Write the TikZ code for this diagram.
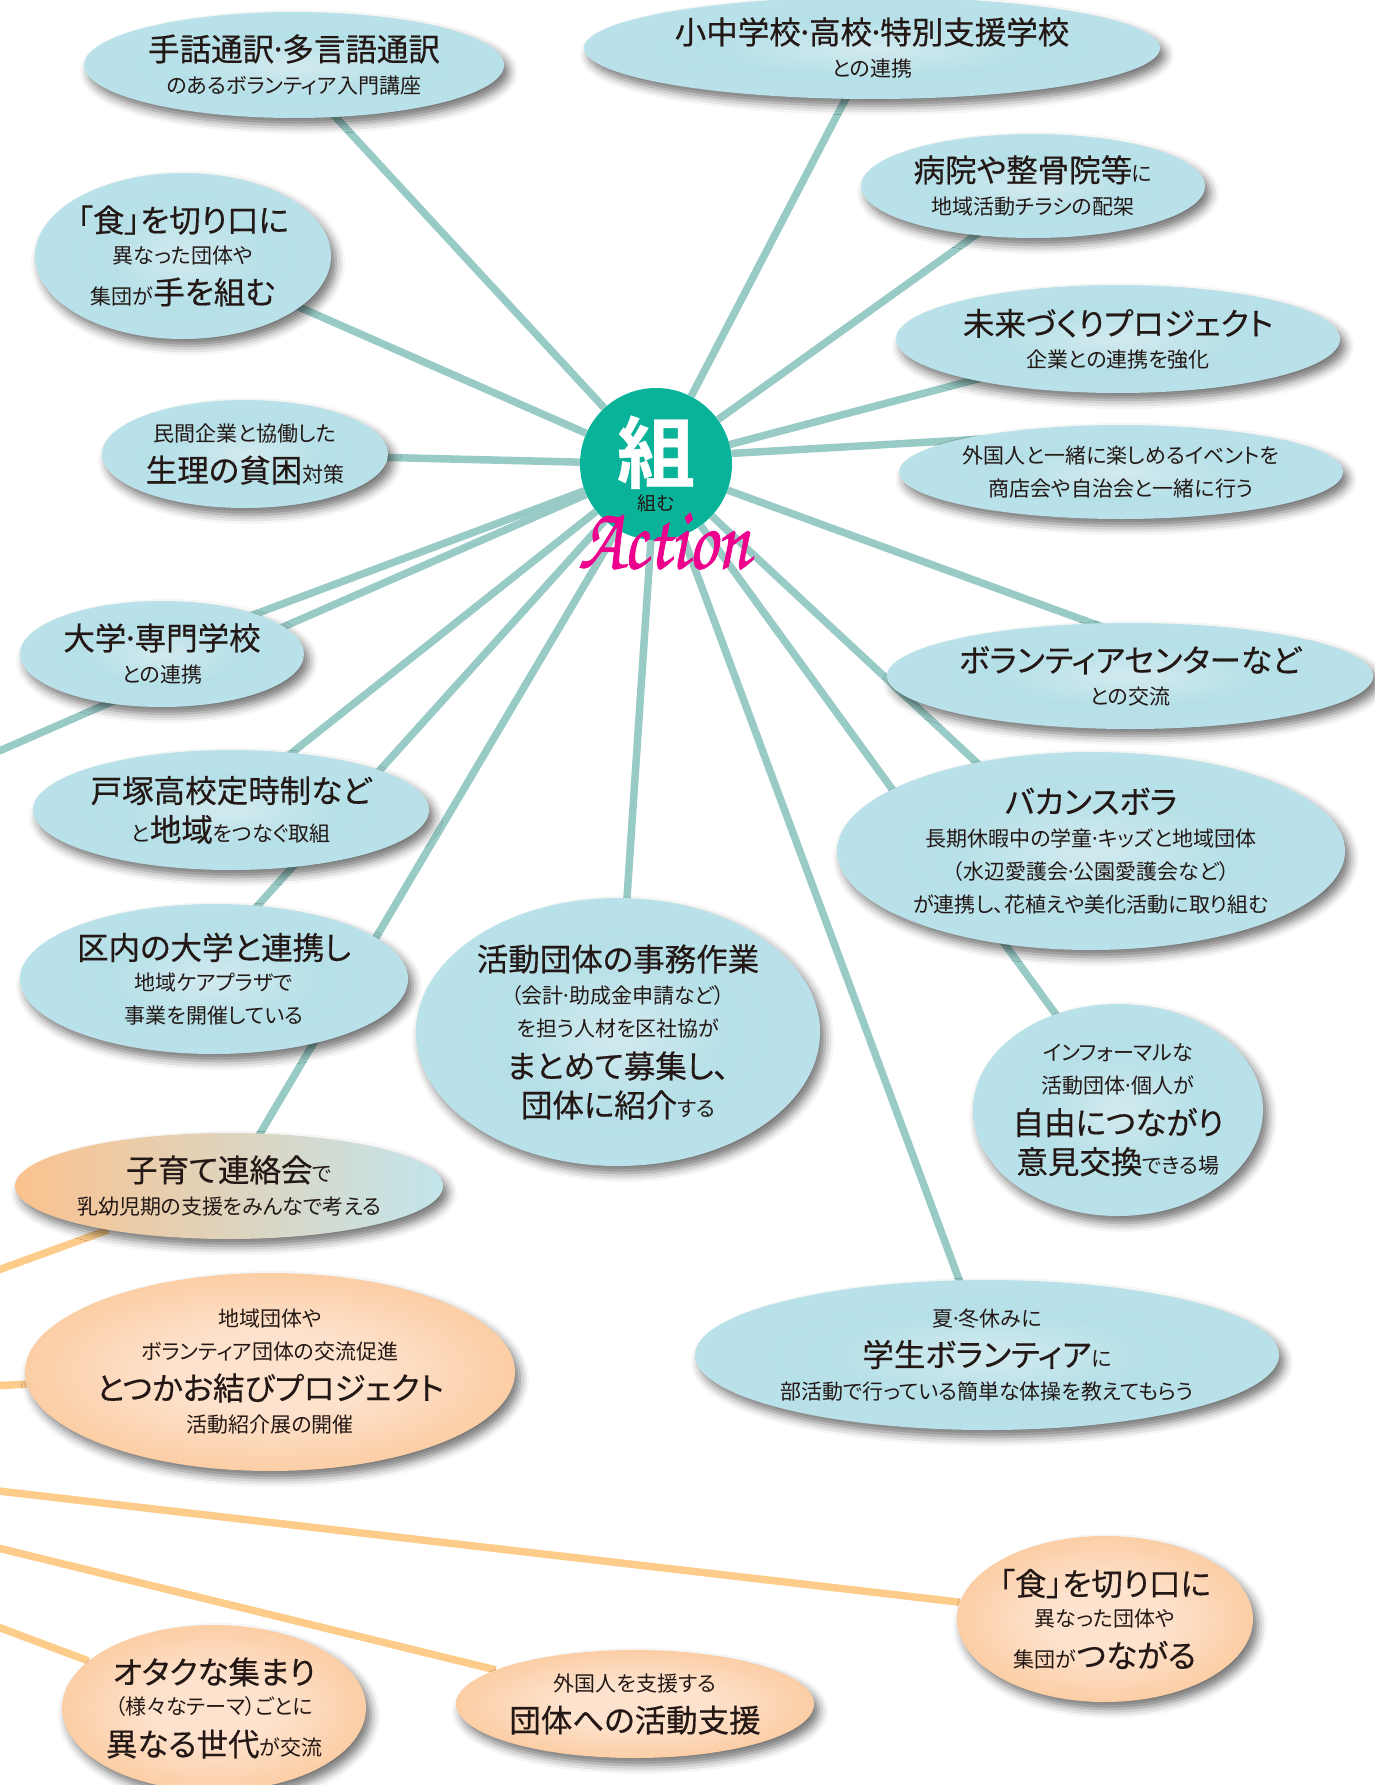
\documentclass[tikz,border=0pt]{standalone}
\usepackage{fontspec}
\setmainfont[RawFeature={+palt}]{Noto Sans CJK JP}
\newfontfamily\jpbig[RawFeature={+palt},FakeBold=0.45]{Noto Sans CJK JP}
\newfontfamily\jpheavy[FakeBold=0.5]{Noto Sans CJK JP Bold}
\usetikzlibrary{shapes.geometric,shadows.blur,backgrounds}
\definecolor{inkc}{HTML}{231815}
\definecolor{tealln}{HTML}{99CBC6}
\definecolor{orangeln}{HTML}{FECC8A}
\definecolor{hubc}{HTML}{08B39A}
\definecolor{pinkc}{HTML}{EC008C}
\definecolor{bluea}{HTML}{D2EAEF}
\definecolor{blueb}{HTML}{B6E0E8}
\definecolor{bluec}{HTML}{C2E5EC}
\definecolor{orangea}{HTML}{FDE2CD}
\definecolor{orangeb}{HTML}{FBC28E}
\definecolor{childmid}{HTML}{E6F0E4}
\pgfdeclareradialshading{bluebub}{\pgfpoint{0bp}{0bp}}{color(0bp)=(bluea);color(14bp)=(blueb);color(50bp)=(bluec)}
\pgfdeclareradialshading{orangebub}{\pgfpoint{0bp}{0bp}}{color(0bp)=(orangea);color(10bp)=(orangea);color(34bp)=(orangeb);color(50bp)=(orangeb)}
\newcommand{\bt}[1]{{\jpbig\fontsize{31.5}{33}\selectfont #1}}
\newcommand{\dt}{\kern-.15em·\kern-.15em}
\newcommand{\brush}[1]{\special{pdf:code 2 Tr 0.7 w 0.925 0 0.549 RG}#1\special{pdf:code 0 Tr}}
\tikzset{
    bubble/.style={ellipse, inner sep=-30pt, align=center, text=inkc,
        font=\fontsize{21}{33}\selectfont,
        blur shadow={shadow xshift=5pt, shadow yshift=-7pt, shadow blur radius=9pt, shadow opacity=55}},
    wh/.style 2 args={minimum width=#1pt, minimum height=#2pt},
    tealbub/.style={bubble, shading=bluebub},
    orangebub/.style={bubble, shading=orangebub},
    tealline/.style={draw=tealln, line width=7.5pt},
    orangeline/.style={draw=orangeln, line width=7.5pt}
}
\begin{document}
\begin{tikzpicture}[x=1pt, y=-1pt]
\useasboundingbox (0,0) rectangle (1374,1785);
% right side
\node[tealbub, wh={420}{106}] (hand) at (294,65) {\bt{手話通訳\dt 多言語通訳}\\のあるボランティア入門講座};
\node[tealbub, wh={576}{102}] (school) at (872,48) {\bt{小中学校\dt 高校\dt 特別支援学校}\\との連携};
\node[tealbub, wh={344}{104}] (clinic) at (1033,186) {\bt{病院や整骨院等}に\\地域活動チラシの配架};
\node[tealbub, wh={444}{108}] (future) at (1118,339) {\bt{未来づくりプロジェクト}\\[-1pt]企業との連携を強化};
\node[tealbub, wh={444}{94}] (abroad) at (1121,472) {外国人と一緒に楽しめるイベントを\\商店会や自治会と一緒に行う};
\node[tealbub, wh={486}{106}] (center) at (1130,676) {\bt{ボランティアセンターなど}\\[-1pt]との交流};
\node[tealbub, wh={508}{198}] (vacation) at (1091,851) {\bt{バカンスボラ}\\長期休暇中の学童\dt キッズと地域団体\\（水辺愛護会\dt 公園愛護会など）\\が連携し、花植えや美化活動に取り組む};
\node[tealbub, wh={290}{212}] (informal) at (1118,1110) {インフォーマルな\\活動団体\dt 個人が\\[8pt]\bt{自由につながり}\\[6pt]\bt{意見交換}できる場};
\node[tealbub, wh={584}{150}] (summer) at (987,1355) {夏\dt 冬休みに\\[7pt]\bt{学生ボランティア}に\\部活動で行っている簡単な体操を教えてもらう};
\node[tealbub, wh={404}{268}] (office) at (618,1032) {\bt{活動団体の事務作業}\\（会計\dt 助成金申請など）\\を担う人材を区社協が\\[8pt]\bt{まとめて募集し、}\\[6pt]\bt{団体に紹介}する};
% left side
\node[tealbub, wh={388}{150}] (ward) at (214,979) {\bt{区内の大学と連携し}\\[-2pt]地域ケアプラザで\\事業を開催している};
\node[tealbub, wh={396}{120}] (totsuka) at (231,810) {\bt{戸塚高校定時制など}\\[6pt]と\bt{地域}をつなぐ取組};
\node[tealbub, wh={284}{106}] (college) at (162,654) {\bt{大学\dt 専門学校}\\との連携};
\node[tealbub, wh={286}{108}] (firm) at (245,454) {民間企業と協働した\\[8pt]\bt{生理の貧困}対策};
\node[tealbub, wh={296}{166}] (food) at (183,256) {\bt{「食」を切り口に}\\[-2pt]異なった団体や\\[8pt]集団が\bt{手を組む}};
\node[bubble, wh={428}{106}, left color=orangeb, middle color=childmid, right color=bluec] (child) at (229,1186) {\bt{子育て連絡会}で\\乳幼児期の支援をみんなで考える};
% orange side
\node[orangebub, wh={490}{198}] (musubi) at (270,1372) {地域団体や\\ボランティア団体の交流促進\\[7pt]\bt{とつかお結びプロジェクト}\\活動紹介展の開催};
\node[orangebub, wh={296}{166}] (foodtie) at (1105,1619) {\bt{「食」を切り口に}\\[-2pt]異なった団体や\\[8pt]集団が\bt{つながる}};
\node[orangebub, wh={358}{108}] (aid) at (635,1704) {外国人を支援する\\[8pt]\bt{団体への活動支援}};
\node[orangebub, wh={304}{166}] (otaku) at (214,1708) {\bt{オタクな集まり}\\[-2pt]（様々なテーマ）ごとに\\[8pt]\bt{異なる世代}が交流};
% hub
\node[circle, fill=hubc, minimum size=152pt, inner sep=-30pt, align=center, font=\fontsize{19}{24}\selectfont] (hub) at (656,464) {{\jpheavy\color{white}\fontsize{78}{78}\selectfont 組}\\[5pt]\textcolor{inkc}{組む}};
\node[text=pinkc, inner sep=0pt, yscale=1.25, font=\usefont{OT1}{pzc}{mb}{it}\fontsize{72}{72}\selectfont] (action) at (664,540) {\brush{Action}};
\coordinate (tealend) at (-10,755);
\coordinate (childend) at (-10,1273);
\coordinate (musubiend) at (-10,1386);
\coordinate (foodend) at (-10,1490);
\coordinate (aidend) at (-10,1546);
\coordinate (otakuend) at (-10,1624);
\begin{scope}[on background layer]
\foreach \bub/\up in {hand/-7,school/0,clinic/-8,future/-3,vacation/-18,informal/10,summer/0,office/0,ward/25,totsuka/9,college/5,firm/0,food/0,child/0}
{
    \draw[tealline] (hub) -- ([yshift=\up pt]\bub.center);
}
\draw[tealline] (hub.8) -- ([xshift=-121pt,yshift=34pt]abroad.center);
\draw[tealline] (hub) -- ([yshift=39pt]center.center);
\draw[tealline] (hub) -- (tealend);
\foreach \bub/\tip in {child/childend,musubi/musubiend,foodtie/foodend,aid/aidend,otaku/otakuend}
{
    \draw[orangeline] (\tip) -- (\bub);
}
\end{scope}
\end{tikzpicture}
\end{document}
